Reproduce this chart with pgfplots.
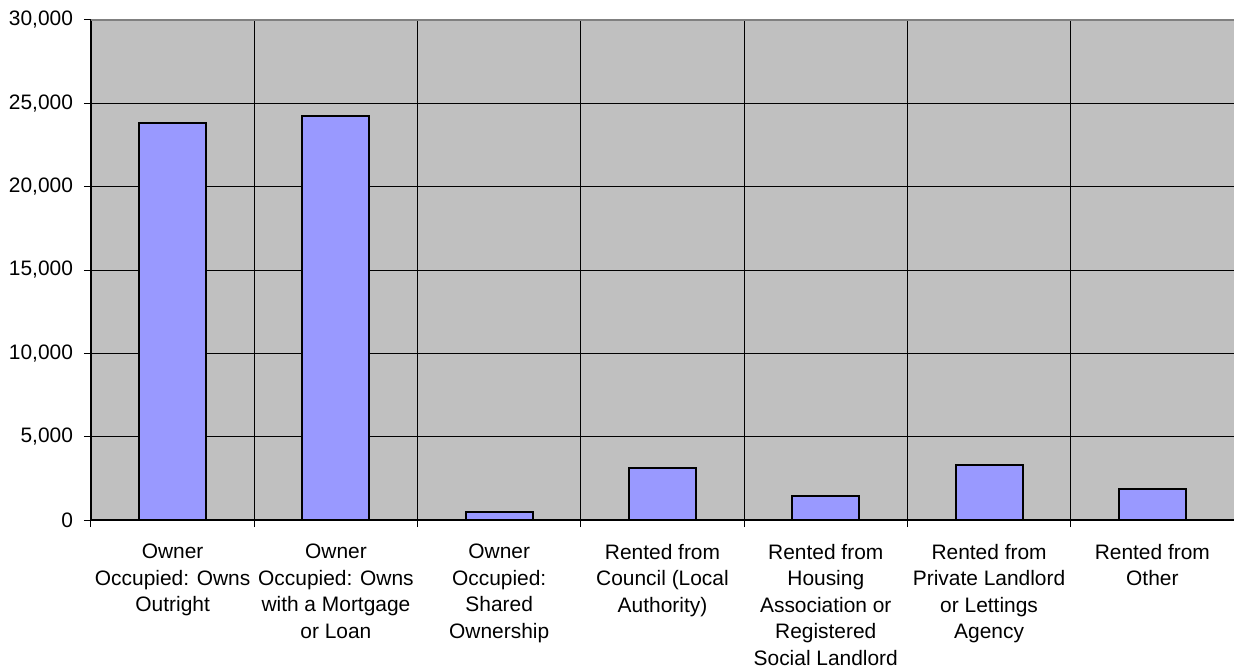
\documentclass[border=0pt]{standalone}
\usepackage{fontspec}
\setmainfont{Liberation Sans}
\usepackage{pgfplots}
\pgfplotsset{compat=1.18}
\definecolor{barfill}{HTML}{9999FF}
\definecolor{plotbg}{HTML}{C0C0C0}
\begin{document}
\begin{tikzpicture}
\begin{axis}[
    scale only axis,
    width=571.5bp, height=250bp,
    axis background/.style={fill=plotbg},
    axis lines=left,
    axis line style={-, black, line width=0.6bp},
    xmin=-0.5, xmax=6.5, ymin=0, ymax=30000,
    enlarge x limits=false,
    ybar, bar width=33.5bp,
    xtick={0,...,6},
    xticklabels={
      {Owner\\Occupied: Owns\\Outright},
      {Owner\\Occupied: Owns\\with a Mortgage\\or Loan},
      {Owner\\Occupied:\\Shared\\Ownership},
      {Rented from\\Council (Local\\Authority)},
      {Rented from\\Housing\\Association or\\Registered\\Social Landlord},
      {Rented from\\Private Landlord\\or Lettings\\Agency},
      {Rented from\\Other}},
    minor xtick={-0.5,0.5,...,6.5},
    major x tick style={draw=none},
    xminorgrids, ymajorgrids,
    major grid style={black, line width=0.5bp},
    minor grid style={black, line width=0.5bp},
    tick align=outside,
    major tick length=3.5bp, minor tick length=3.5bp,
    tick style={black, line width=0.5bp},
    ytick={0,5000,...,30000},
    scaled y ticks=false,
    /pgf/number format/.cd, 1000 sep={,}, assume math mode=true,
    /pgfplots/.cd,
    tick label style={font=\fontsize{10.5}{13.3}\selectfont},
    xticklabel style={align=center, anchor=north, yshift=-5bp},
    yticklabel style={xshift=-2bp},
]
\addplot[draw=black, fill=barfill, line width=1bp] coordinates {
(0,23840) (1,24260) (2,480) (3,3100) (4,1440) (5,3300) (6,1840)};
\draw[gray, line width=1bp] (rel axis cs:0,1) -- (rel axis cs:1,1);
\end{axis}
\pgfresetboundingbox
\path[use as bounding box] ([shift={(-45.5bp,-75.5bp)}]current axis.south west) rectangle ([shift={(0bp,10bp)}]current axis.north east);
\end{tikzpicture}
\end{document}
